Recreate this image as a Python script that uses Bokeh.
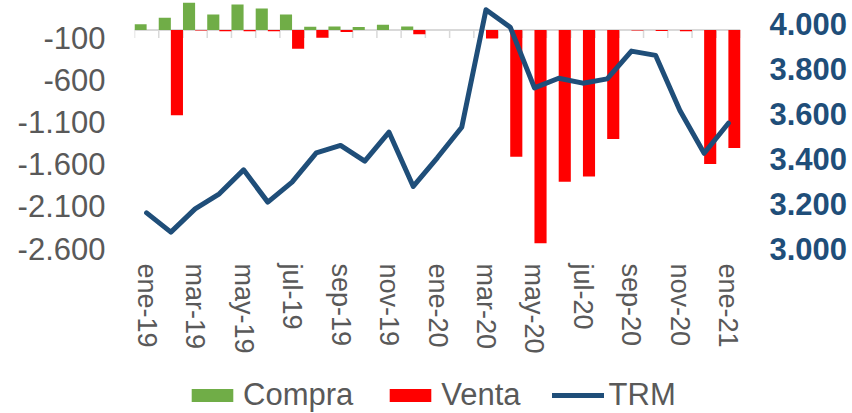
from bokeh.plotting import figure
from bokeh.layouts import column
from bokeh.models import Range1d, LinearAxis, FixedTicker, Span, Legend, LegendItem, ColumnDataSource
from bokeh.embed import file_html
from bokeh.resources import INLINE

months = ["ene-19", "feb-19", "mar-19", "abr-19", "may-19", "jun-19", "jul-19", "ago-19",
          "sep-19", "oct-19", "nov-19", "dic-19", "ene-20", "feb-20", "mar-20", "abr-20",
          "may-20", "jun-20", "jul-20", "ago-20", "sep-20", "oct-20", "nov-20", "dic-20", "ene-21"]
compra = [68, 146, 324, 186, 305, 258, 186, 39, 44, 36, 63, 44, 0, 0, 0, 0, 0, 0, 0, 0, 0, 0, 0, 0, 0]
venta = [0, -1013, -5, -15, -15, -15, -222, -91, -24, 0, 0, -51, 0, 0, -99, -1508, -2538,
         -1805, -1742, -1298, -5, -10, -15, -1595, -1405]
trm = [3159, 3073, 3177, 3244, 3351, 3207, 3296, 3427, 3460, 3390, 3519, 3277, 3406, 3541,
       4066, 3988, 3717, 3760, 3738, 3757, 3881, 3862, 3616, 3425, 3559]
left_ticks = [-2600, -2100, -1600, -1100, -600, -100]
right_ticks = [3000, 3200, 3400, 3600, 3800, 4000]
left_min, left_max = -2600, 352
right_min, right_max = 3000, 4107

FONT = "Liberation Sans"
GRAY = "#595959"
BLUE = "#1F4E79"
GREEN = "#70AD47"
RED = "#FF0000"

n = len(months)
idx = list(range(n))
src = ColumnDataSource(dict(
    x=idx,
    xc=[i - 0.25 for i in idx],
    xv=[i + 0.25 for i in idx],
    compra=compra, venta=venta, trm=trm,
))

FRAME_H = 248
p = figure(width=852, height=361, x_range=Range1d(-0.5, n - 0.5),
           y_range=Range1d(left_min, left_max),
           output_backend="svg", toolbar_location=None,
           min_border_left=134, min_border_right=112, min_border_top=0, min_border_bottom=113)
p.extra_y_ranges = {"trm": Range1d(right_min, right_max)}
p.outline_line_color = None
p.xgrid.visible = False
p.ygrid.visible = False

# zero line and category boundary ticks
zero = Span(location=0, dimension="width", line_color="#D9D9D9", line_width=2, level="underlay")
p.add_layout(zero)
units_per_px = (left_max - left_min) / FRAME_H
tick_len = 8 * units_per_px
bx = [i - 0.5 for i in range(n + 1)]
p.segment(x0=bx, y0=[0] * len(bx), x1=bx, y1=[-tick_len] * len(bx),
          line_color="#D9D9D9", line_width=1.5, level="underlay")

p.vbar(x="xc", width=0.5, top="compra", bottom=0, source=src,
       fill_color=GREEN, line_color=None)
p.vbar(x="xv", width=0.5, top=0, bottom="venta", source=src,
       fill_color=RED, line_color=None)
p.line(x="x", y="trm", source=src, y_range_name="trm", line_color=BLUE,
       line_width=5, line_join="round", line_cap="round")

# x axis
xa = p.xaxis[0]
xa.ticker = FixedTicker(ticks=list(range(0, n, 2)))
xa.major_label_overrides = {i: months[i] for i in idx}
xa.major_label_orientation = "vertical"
xa.axis_line_color = None
xa.major_tick_line_color = None
xa.minor_tick_line_color = None
xa.major_tick_out = 0
xa.major_tick_in = 0
xa.major_label_standoff = 15
xa.major_label_text_font = FONT
xa.major_label_text_font_size = "27px"
xa.major_label_text_color = GRAY

# left axis
ya = p.yaxis[0]
ya.ticker = FixedTicker(ticks=left_ticks)
ya.major_label_overrides = {v: f"{v:,}".replace(",", ".") for v in left_ticks}
ya.axis_line_color = None
ya.major_tick_line_color = None
ya.minor_tick_line_color = None
ya.major_tick_out = 0
ya.major_tick_in = 0
ya.major_label_standoff = 29
ya.major_label_text_font = FONT
ya.major_label_text_font_size = "31px"
ya.major_label_text_color = GRAY

# right axis
ra = LinearAxis(y_range_name="trm", ticker=FixedTicker(ticks=right_ticks))
ra.major_label_overrides = {v: f"{v:,}".replace(",", ".") for v in right_ticks}
ra.axis_line_color = None
ra.major_tick_line_color = None
ra.minor_tick_line_color = None
ra.major_tick_out = 0
ra.major_tick_in = 0
ra.major_label_standoff = 29
ra.major_label_text_font = FONT
ra.major_label_text_font_size = "31px"
ra.major_label_text_font_style = "bold"
ra.major_label_text_color = BLUE
p.add_layout(ra, "right")

# legend strip: a small figure whose frame aligns with the chart frame;
# its glyphs use the same data but lie far outside its (empty) view range
lg = figure(width=852, height=52, x_range=Range1d(-1000, -990), y_range=Range1d(90000, 90010),
            output_backend="svg", toolbar_location=None, x_axis_type=None, y_axis_type=None,
            min_border_left=134, min_border_right=112, min_border_top=0, min_border_bottom=0)
lg.outline_line_color = None
lg.xgrid.visible = False
lg.ygrid.visible = False
lc = lg.vbar(x="xc", width=0.5, top="compra", bottom=0, source=src,
             fill_color=GREEN, line_color=None)
lv = lg.vbar(x="xv", width=0.5, top=0, bottom="venta", source=src,
             fill_color=RED, line_color=None)
lt = lg.line(x="x", y="trm", source=src, line_color=BLUE, line_width=5, line_cap="round")
legend = Legend(items=[LegendItem(label="Compra", renderers=[lc]),
                       LegendItem(label="Venta", renderers=[lv]),
                       LegendItem(label="TRM", renderers=[lt])],
                location=(52, 0), orientation="horizontal",
                glyph_width=52, glyph_height=16, label_standoff=5, spacing=31,
                padding=0, margin=0, border_line_color=None, background_fill_alpha=0,
                label_text_font=FONT, label_text_font_size="31px", label_text_color=GRAY)
lg.add_layout(legend)

open("out.html", "w").write(file_html(column(p, lg), INLINE))
